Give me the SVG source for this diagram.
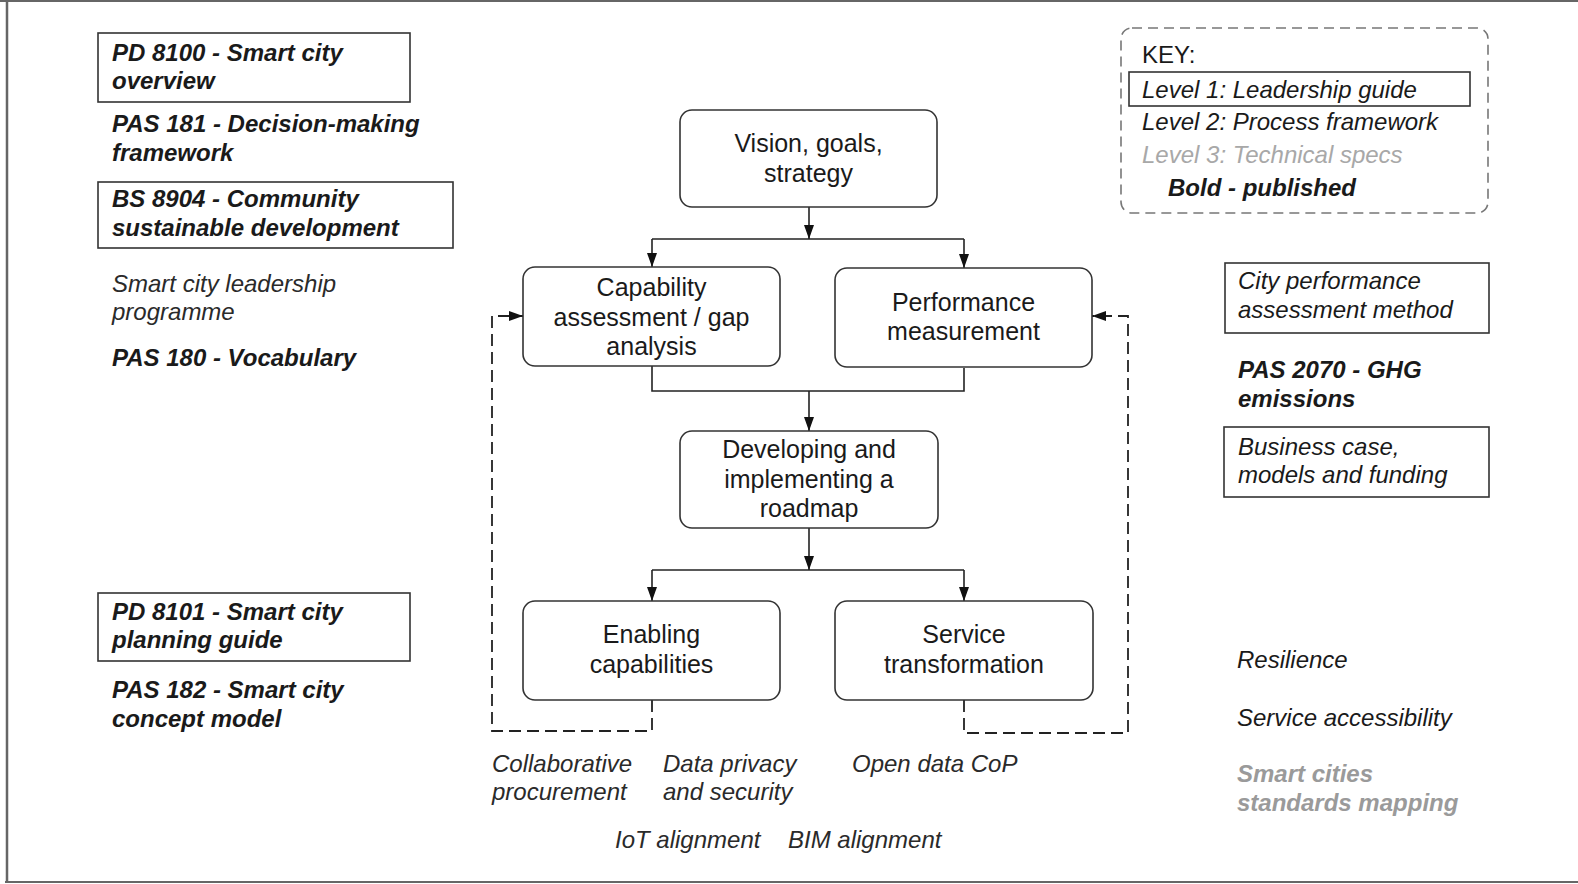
<svg xmlns="http://www.w3.org/2000/svg" width="1578" height="884" viewBox="0 0 1578 884">
<style>
.side{font-family:"Liberation Sans",Arial,sans-serif;font-size:24px;fill:#1a1a1a}
.bi{font-weight:bold;font-style:italic}
.it{font-style:italic}
.g3{fill:#a8a8a8}
.gb{fill:#9a9a9a}
.dk{fill:#2a2a2a}
.box{fill:none;stroke:#333;stroke-width:1.6}
.node{fill:#fff;stroke:#333;stroke-width:1.6}
.ntext{font-family:"Liberation Sans",Arial,sans-serif;font-size:25px;fill:#1a1a1a;text-anchor:middle}
.con{fill:none;stroke:#222;stroke-width:1.6}
.dash{fill:none;stroke:#222;stroke-width:1.8;stroke-dasharray:12 6}
</style>
<defs>
<marker id="arr" viewBox="0 0 14 10" refX="14" refY="5" markerWidth="14" markerHeight="10" orient="auto" markerUnits="userSpaceOnUse"><path d="M0,0 L14,5 L0,10 z" fill="#111"/></marker>
</defs>
<rect width="1578" height="884" fill="#fff"/>
<g id="frame" stroke="#666" fill="none">
<line x1="0" y1="1" x2="1578" y2="1" stroke-width="2"/>
<line x1="7" y1="0" x2="7" y2="883" stroke-width="2.5"/>
<line x1="5" y1="882" x2="1578" y2="882" stroke-width="2"/>
</g>

<g id="pd8100">
<rect class="box" x="98" y="33" width="312" height="69"/>
<text class="side bi" x="112" y="61">PD 8100 - Smart city</text>
<text class="side bi" x="112" y="89">overview</text>
</g>
<g id="pas181">
<text class="side bi" x="112" y="132">PAS 181 - Decision-making</text>
<text class="side bi" x="112" y="161">framework</text>
</g>
<g id="bs8904">
<rect class="box" x="98" y="182" width="355" height="66"/>
<text class="side bi" x="112" y="207">BS 8904 - Community</text>
<text class="side bi" x="112" y="236">sustainable development</text>
</g>
<g id="leadership">
<text class="side it dk" x="112" y="292">Smart city leadership</text>
<text class="side it dk" x="112" y="320">programme</text>
</g>
<g id="pas180">
<text class="side bi" x="112" y="366">PAS 180 - Vocabulary</text>
</g>
<g id="pd8101">
<rect class="box" x="98" y="593" width="312" height="68"/>
<text class="side bi" x="112" y="620">PD 8101 - Smart city</text>
<text class="side bi" x="112" y="648">planning guide</text>
</g>
<g id="pas182">
<text class="side bi" x="112" y="698">PAS 182 - Smart city</text>
<text class="side bi" x="112" y="727">concept model</text>
</g>

<g id="key">
<rect x="1121" y="28" width="367" height="185" rx="11" fill="none" stroke="#777" stroke-width="1.6" stroke-dasharray="10 6"/>
<text class="side" x="1142" y="63">KEY:</text>
<rect class="box" x="1129" y="72" width="341" height="34"/>
<text class="side it" x="1142" y="98">Level 1: Leadership guide</text>
<text class="side it" x="1142" y="130">Level 2: Process framework</text>
<text class="side it g3" x="1142" y="163">Level 3: Technical specs</text>
<text class="side bi" x="1168" y="196">Bold - published</text>
</g>

<g id="cityperf">
<rect class="box" x="1225" y="263" width="264" height="70"/>
<text class="side it" x="1238" y="289">City performance</text>
<text class="side it" x="1238" y="318">assessment method</text>
</g>
<g id="pas2070">
<text class="side bi" x="1238" y="378">PAS 2070 - GHG</text>
<text class="side bi" x="1238" y="407">emissions</text>
</g>
<g id="business">
<rect class="box" x="1224" y="427" width="265" height="70"/>
<text class="side it" x="1238" y="455">Business case,</text>
<text class="side it" x="1238" y="483">models and funding</text>
</g>
<g id="resilience"><text class="side it" x="1237" y="668">Resilience</text></g>
<g id="accessibility"><text class="side it" x="1237" y="726">Service accessibility</text></g>
<g id="mapping">
<text class="side bi gb" x="1237" y="782">Smart cities</text>
<text class="side bi gb" x="1237" y="811">standards mapping</text>
</g>

<g id="collab">
<text class="side it dk" x="492" y="772">Collaborative</text>
<text class="side it dk" x="492" y="800">procurement</text>
</g>
<g id="privacy">
<text class="side it dk" x="663" y="772">Data privacy</text>
<text class="side it dk" x="663" y="800">and security</text>
</g>
<g id="opendata"><text class="side it dk" x="852" y="772">Open data CoP</text></g>
<g id="iot"><text class="side it dk" x="615" y="848">IoT alignment</text></g>
<g id="bim"><text class="side it dk" x="788" y="848">BIM alignment</text></g>

<g id="connectors">
<path class="con" d="M809,207 V239" marker-end="url(#arr)"/>
<path class="con" d="M652,239 H964"/>
<path class="con" d="M652,239 V267" marker-end="url(#arr)"/>
<path class="con" d="M964,239 V268" marker-end="url(#arr)"/>
<path class="con" d="M652,366 V391 H964 V368"/>
<path class="con" d="M809,391 V431" marker-end="url(#arr)"/>
<path class="con" d="M809,528 V570" marker-end="url(#arr)"/>
<path class="con" d="M652,570 H964"/>
<path class="con" d="M652,570 V601" marker-end="url(#arr)"/>
<path class="con" d="M964,570 V601" marker-end="url(#arr)"/>
<path class="dash" d="M652,700 V731 H492 V316 H523" marker-end="url(#arr)"/>
<path class="dash" d="M964,700 V733 H1128 V316 H1092" marker-end="url(#arr)"/>
</g>

<g id="vision">
<rect class="node" x="680" y="110" width="257" height="97" rx="12"/>
<text class="ntext" x="808.5" y="152">Vision, goals,</text>
<text class="ntext" x="808.5" y="182">strategy</text>
</g>
<g id="capability">
<rect class="node" x="523" y="267" width="257" height="99" rx="12"/>
<text class="ntext" x="651.5" y="296">Capability</text>
<text class="ntext" x="651.5" y="326">assessment / gap</text>
<text class="ntext" x="651.5" y="355">analysis</text>
</g>
<g id="performance">
<rect class="node" x="835" y="268" width="257" height="99" rx="12"/>
<text class="ntext" x="963.5" y="311">Performance</text>
<text class="ntext" x="963.5" y="340">measurement</text>
</g>
<g id="roadmap">
<rect class="node" x="680" y="431" width="258" height="97" rx="12"/>
<text class="ntext" x="809" y="458">Developing and</text>
<text class="ntext" x="809" y="488">implementing a</text>
<text class="ntext" x="809" y="517">roadmap</text>
</g>
<g id="enabling">
<rect class="node" x="523" y="601" width="257" height="99" rx="12"/>
<text class="ntext" x="651.5" y="643">Enabling</text>
<text class="ntext" x="651.5" y="673">capabilities</text>
</g>
<g id="service">
<rect class="node" x="835" y="601" width="258" height="99" rx="12"/>
<text class="ntext" x="964" y="643">Service</text>
<text class="ntext" x="964" y="673">transformation</text>
</g>
</svg>
